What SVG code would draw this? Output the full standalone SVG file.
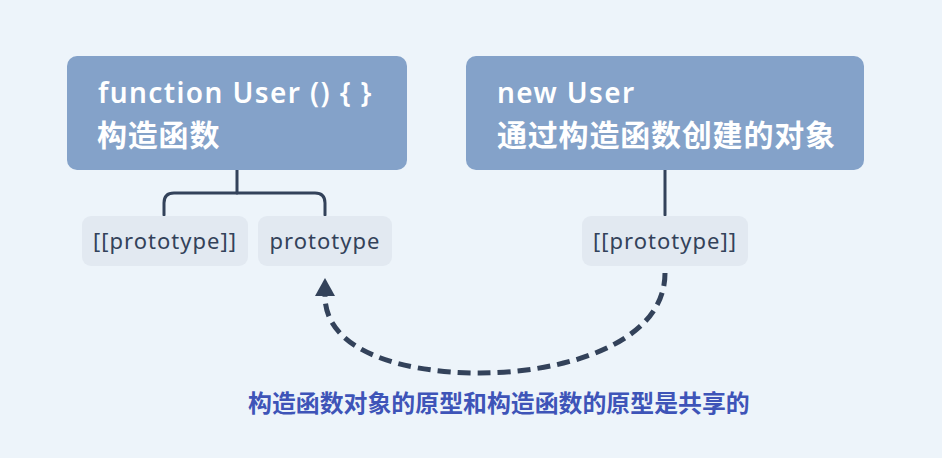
<svg xmlns="http://www.w3.org/2000/svg" width="942" height="458" viewBox="0 0 942 458">
<defs>
<style>
.main{fill:#84A2C9}
.sub{fill:#E2E9F1}
.t1{font-family:"Noto Sans","Liberation Sans",sans-serif;font-size:28px;font-weight:600;letter-spacing:1.4px;fill:#FFFFFF}
.t2{font-family:"Noto Sans CJK SC",sans-serif;font-size:30px;font-weight:700;letter-spacing:0.8px;fill:#FFFFFF}
.t3{font-family:"Noto Sans","Liberation Sans",sans-serif;font-size:22px;letter-spacing:1px;fill:#33425A}
.lbl{font-family:"Noto Sans CJK SC",sans-serif;font-size:23.9px;font-weight:700;fill:#3E54B8}
.ln{fill:none;stroke:#33425A;stroke-width:3;stroke-linecap:round}
</style>
</defs>
<rect width="942" height="458" fill="#EDF4FA"/>
<g id="connectors">
<path class="ln" d="M237,170 V193"/>
<path class="ln" d="M164,215 V203 Q164,193 174,193 H315 Q325,193 325,203 V215"/>
<path class="ln" d="M665,170 V215"/>
<path d="M665,273 C665,345 560,373 480,373 C400,373 325,350 325,296" fill="none" stroke="#33425A" stroke-width="5" stroke-dasharray="13,7"/>
<path d="M325,278 L335,296 L315,296 Z" fill="#33425A"/>
</g>
<g id="node-constructor">
<rect class="main" x="67" y="56" width="340" height="114" rx="10"/>
<text class="t1" x="98" y="103">function User () { }</text>
<text class="t2" x="97" y="146">构造函数</text>
</g>
<g id="node-instance">
<rect class="main" x="466" y="56" width="398" height="114" rx="10"/>
<text class="t1" x="497" y="103">new User</text>
<text class="t2" x="497" y="146">通过构造函数创建的对象</text>
</g>
<g id="node-proto1">
<rect class="sub" x="82" y="216" width="166" height="50" rx="9"/>
<text class="t3" x="165" y="249" text-anchor="middle">[[prototype]]</text>
</g>
<g id="node-proto2">
<rect class="sub" x="258" y="216" width="134" height="50" rx="9"/>
<text class="t3" x="325" y="249" text-anchor="middle">prototype</text>
</g>
<g id="node-proto3">
<rect class="sub" x="582" y="216" width="166" height="50" rx="9"/>
<text class="t3" x="665" y="249" text-anchor="middle">[[prototype]]</text>
</g>
<g id="label">
<text class="lbl" x="248" y="412">构造函数对象的原型和构造函数的原型是共享的</text>
</g>
</svg>
